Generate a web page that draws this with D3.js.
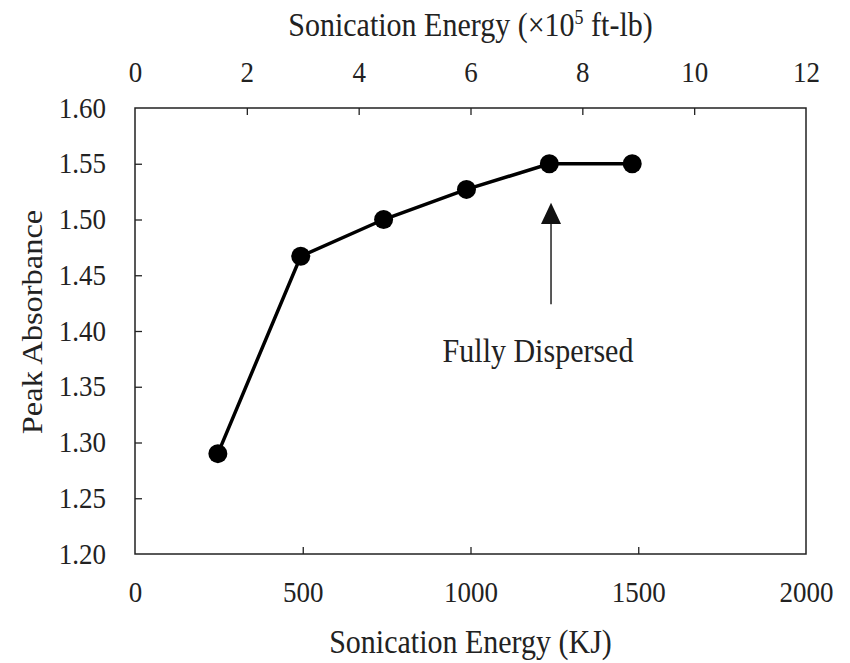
<!DOCTYPE html>
<html>
<head>
<meta charset="utf-8">
<script src="https://cdn.jsdelivr.net/npm/d3@7"></script>
<style>
  body { margin: 0; background: white; }
  text { font-family: "Liberation Serif", "Times New Roman", serif; fill: #222; }
</style>
</head>
<body>
<script>
var width = 850
var height = 663

// values
var energyKJ = [247, 494, 741, 988, 1235, 1482]
var absorbance = [1.290, 1.467, 1.500, 1.527, 1.550, 1.550]
var bottomTicks = [0, 500, 1000, 1500, 2000]
var topTicks = [0, 2, 4, 6, 8, 10, 12]
var yTicks = [1.20, 1.25, 1.30, 1.35, 1.40, 1.45, 1.50, 1.55, 1.60]
var noteAt = 1240
var noteText = "Fully Dispersed"

var margin = { top: 108, right: 44, bottom: 109, left: 135 }
var stretch = 1.12 // the source text is a bit taller than it is wide

var svg = d3.select("body")
    .append("svg")
    .attr("width", width)
    .attr("height", height)

var g = svg.append("g")
    .attr("transform", "translate(" + margin.left + "," + margin.top + ")")

var w = width - margin.left - margin.right
var h = height - margin.top - margin.bottom

var x = d3.scaleLinear().domain([0, 2000]).range([0, w])
var xTop = d3.scaleLinear().domain([0, 12]).range([0, w])
var y = d3.scaleLinear().domain([1.20, 1.60]).range([h, 0])

// put text at (px, py) baseline, stretched vertically on screen
function place(sel, px, py, rot) {
    sel.attr("x", null).attr("y", null).attr("dy", null)
        .attr("transform", "translate(" + px + "," + py + ")" + (rot ? " rotate(" + rot + ")" : "") + (rot ? " scale(" + stretch + ",1)" : " scale(1," + stretch + ")"))
}

// frame
g.append("rect")
    .attr("width", w)
    .attr("height", h)
    .attr("fill", "none")
    .attr("stroke", "#222")
    .attr("stroke-width", 1.5)

var bottomAxis = g.append("g")
    .attr("transform", "translate(0," + h + ")")
    .call(d3.axisBottom(x).tickValues(bottomTicks).tickFormat(d3.format("d")).tickSizeInner(-7).tickSizeOuter(0))

var topAxis = g.append("g")
    .call(d3.axisTop(xTop).tickValues(topTicks).tickSizeInner(-7).tickSizeOuter(0))

var leftAxis = g.append("g")
    .call(d3.axisLeft(y).tickValues(yTicks).tickFormat(d3.format(".2f")).tickSizeInner(-7).tickSizeOuter(0))

;[bottomAxis, topAxis, leftAxis].forEach(function (a) {
    a.select(".domain").remove()
    a.selectAll("line").attr("stroke", "#222").attr("stroke-width", 1.3)
    a.selectAll("text").style("font-size", "27px").attr("fill", "#222")
})

bottomAxis.selectAll(".tick text").each(function () { place(d3.select(this), 0, 48) })
topAxis.selectAll(".tick text").each(function () { place(d3.select(this), 0, -26) })
leftAxis.selectAll(".tick text").each(function () { place(d3.select(this), -29, 9) })

// hide ticks sitting on the frame corners
bottomAxis.selectAll(".tick line").filter(function (d) { return d === 0 || d === 2000 }).remove()
topAxis.selectAll(".tick line").filter(function (d) { return d === 0 || d === 12 }).remove()
leftAxis.selectAll(".tick line").filter(function (d) { return d === 1.20 || d === 1.60 }).remove()

// axis titles
svg.append("text")
    .attr("text-anchor", "middle")
    .style("font-size", "30px")
    .text("Sonication Energy (KJ)")
    .call(place, margin.left + w / 2, 653)

var topTitle = svg.append("text")
    .attr("text-anchor", "middle")
    .style("font-size", "30px")
    .call(place, margin.left + w / 2, 36)
topTitle.append("tspan").text("Sonication Energy (\u00d710")
topTitle.append("tspan").attr("dy", -11).style("font-size", "18px").text("5")
topTitle.append("tspan").attr("dy", 11).text(" ft-lb)")

svg.append("text")
    .attr("text-anchor", "middle")
    .style("font-size", "29px")
    .text("Peak Absorbance")
    .call(place, 42, margin.top + h / 2 - 9, -90)

// series
var pts = energyKJ.map(function (e, i) { return [e, absorbance[i]] })

g.append("path")
    .datum(pts)
    .attr("fill", "none")
    .attr("stroke", "black")
    .attr("stroke-width", 3.5)
    .attr("d", d3.line().x(function (d) { return x(d[0]) }).y(function (d) { return y(d[1]) }))

g.selectAll(".dot")
    .data(pts)
    .enter()
    .append("circle")
    .attr("class", "dot")
    .attr("cx", function (d) { return x(d[0]) })
    .attr("cy", function (d) { return y(d[1]) })
    .attr("r", 9.5)
    .attr("fill", "black")

// annotation arrow
var ax = x(noteAt)
g.append("line")
    .attr("x1", ax).attr("x2", ax)
    .attr("y1", y(1.424)).attr("y2", y(1.497))
    .attr("stroke", "#222")
    .attr("stroke-width", 1.5)

g.append("path")
    .attr("d", "M" + ax + "," + y(1.515) + "L" + (ax - 10) + "," + y(1.496) + "L" + (ax + 10) + "," + y(1.496) + "Z")
    .attr("fill", "#111")

g.append("text")
    .attr("text-anchor", "middle")
    .style("font-size", "30px")
    .text(noteText)
    .call(place, ax - 13, y(1.372))
</script>
</body>
</html>
